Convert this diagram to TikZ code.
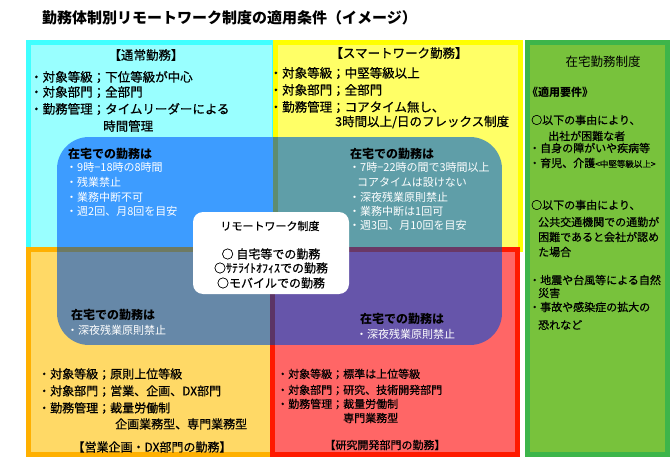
\documentclass[tikz,border=0pt]{standalone}
\usepackage{fontspec}
\setmainfont{Noto Sans CJK JP}
\newfontfamily\jpm{Noto Sans CJK JP}[FakeBold=0.6]
\definecolor{cyB}{HTML}{40FFFF}
\definecolor{cyF}{HTML}{99FFFF}
\definecolor{yeB}{HTML}{FFFF00}
\definecolor{yeF}{HTML}{FFFF66}
\definecolor{orB}{HTML}{FFB000}
\definecolor{orF}{HTML}{FFD966}
\definecolor{rdB}{HTML}{FF1A00}
\definecolor{rdF}{HTML}{FF6666}
\definecolor{grB}{HTML}{3DB54A}
\definecolor{grF}{HTML}{78C23C}
\definecolor{ovTL}{HTML}{3D9CFF}
\definecolor{ovTR}{HTML}{5F9EA8}
\definecolor{ovBL}{HTML}{6688A8}
\definecolor{ovBR}{HTML}{6655AA}
\definecolor{lnT}{HTML}{5E8C70}
\definecolor{lnHL}{HTML}{6E7A62}
\definecolor{lnHR}{HTML}{6A3866}
\definecolor{lnB}{HTML}{5C3464}
\begin{document}
\begin{tikzpicture}[x=1pt,y=-1pt,
  jt/.style={anchor=west, inner sep=0pt, text=black, font=\jpm\fontsize{12.5}{14}\selectfont},
  jts/.style={jt, font=\jpm\fontsize{12}{14}\selectfont},
  jtr/.style={jt, font=\jpm\fontsize{11}{13}\selectfont},
  jc/.style={jt, anchor=center},
  ovh/.style={anchor=west, inner sep=0pt, text=black, font=\fontsize{12}{14}\selectfont\bfseries},
  ovi/.style={anchor=west, inner sep=0pt, text=white, font=\fontsize{11}{13}\selectfont},
  ctr/.style={anchor=center, inner sep=0pt, text=black, font=\jpm\fontsize{11}{13}\selectfont},
  ctrb/.style={ctr, font=\jpm\fontsize{12}{14}\selectfont},
  gt/.style={anchor=west, inner sep=0pt, text=black, font=\jpm\fontsize{11}{13}\selectfont}
]
\useasboundingbox (0,0) rectangle (670,460);
\fill[white] (0,0) rectangle (670,460);

% title
\node[anchor=west, inner sep=0pt, font=\fontsize{15}{17}\selectfont\bfseries] (title) at (42,18) {勤務体制別リモートワーク制度の適用条件（イメージ）};

% quadrants
\fill[cyB] (26,40) rectangle (276,252);
\fill[cyF] (31,45) rectangle (272,248);
\fill[yeB] (273,40) rectangle (523,252);
\fill[yeF] (278,45) rectangle (518,248);
\fill[orB] (26,247) rectangle (275,457);
\fill[orF] (31,252) rectangle (270,452);
\fill[rdB] (270,247) rectangle (520,457);
\fill[rdF] (275,252) rectangle (515,452);
% green box
\fill[grB] (525,40) rectangle (670,457);
\fill[grF] (530,45) rectangle (665,452);

% overlay
\begin{scope}
\clip[rounded corners=32] (57,137) rectangle (502,345);
\fill[ovTL] (57,137) rectangle (273,249);
\fill[ovTR] (273,137) rectangle (502,249);
\fill[ovBL] (57,249) rectangle (272,345);
\fill[ovBR] (272,249) rectangle (502,345);
\fill[lnT] (273,137) rectangle (277.5,249);
\fill[lnHL] (57,247) rectangle (272,251.5);
\fill[lnHR] (272,247) rectangle (502,251.5);
\fill[lnB] (270,251.5) rectangle (275,345);
\end{scope}

% center box
\fill[white, rounded corners=10] (193,212) rectangle (349,294);
\node[ctr] (c0) at (270,226) {リモートワーク制度};
\node[ctrb] (c1) at (271,254) {○ 自宅等での勤務};
\node[ctrb] (c2) at (271,268) {○ｻﾃﾗｲﾄｵﾌｨｽでの勤務};
\node[ctrb] (c3) at (271,283) {○モバイルでの勤務};

% top-left text
\node[jc] (tlh) at (146,55) {【通常勤務】};
\node[jt] (tl1) at (30,77) {・対象等級；下位等級が中心};
\node[jt] (tl2) at (30,92) {・対象部門；全部門};
\node[jt] (tl3) at (30,109) {・勤務管理；タイムリーダーによる};
\node[jt] (tl4) at (103,126) {時間管理};

% top-right text
\node[jc] (trh) at (399,53) {【スマートワーク勤務】};
\node[jt] (tr1) at (269.5,73) {・対象等級；中堅等級以上};
\node[jt] (tr2) at (269.5,90) {・対象部門；全部門};
\node[jt] (tr3) at (269.5,107) {・勤務管理；コアタイム無し、};
\node[jt] (tr4) at (335,122) {3時間以上/日のフレックス制度};

% overlay TL
\node[ovh] (otl0) at (68,154) {在宅での勤務は};
\node[ovi] (otl1) at (66,167) {・9時−18時の8時間};
\node[ovi] (otl2) at (66,182) {・残業禁止};
\node[ovi] (otl3) at (66,197) {・業務中断不可};
\node[ovi] (otl4) at (66,211) {・週2回、月8回を目安};

% overlay TR
\node[ovh] (otr0) at (350,154) {在宅での勤務は};
\node[ovi] (otr1) at (349,167) {・7時−22時の間で3時間以上};
\node[ovi] (otr2) at (357,182) {コアタイムは設けない};
\node[ovi] (otr3) at (349,197) {・深夜残業原則禁止};
\node[ovi] (otr4) at (349,211) {・業務中断は1回可};
\node[ovi] (otr5) at (349,225) {・週3回、月10回を目安};

% overlay BL / BR
\node[ovh] (obl0) at (71,315) {在宅での勤務は};
\node[ovi] (obl1) at (67,330) {・深夜残業原則禁止};
\node[ovh] (obr0) at (360,319) {在宅での勤務は};
\node[ovi] (obr1) at (356,334) {・深夜残業原則禁止};

% bottom-left text
\node[jts] (bl1) at (38,374) {・対象等級；原則上位等級};
\node[jts] (bl2) at (38,391) {・対象部門；営業、企画、DX部門};
\node[jts] (bl3) at (38,408) {・勤務管理；裁量労働制};
\node[jts] (bl4) at (115,424) {企画業務型、専門業務型};
\node[jts, anchor=center] (blh) at (152,447) {【営業企画・DX部門の勤務】};

% bottom-right text
\node[jtr] (br1) at (277,374) {・対象等級；標準は上位等級};
\node[jtr] (br2) at (277,390) {・対象部門；研究、技術開発部門};
\node[jtr] (br3) at (277,404) {・勤務管理；裁量労働制};
\node[jtr] (br4) at (343,418) {専門業務型};
\node[jtr, anchor=center] (brh) at (385,445) {【研究開発部門の勤務】};

% green box text
\node[anchor=center, inner sep=0pt, font=\fontsize{12.5}{14}\selectfont] (g0) at (603,62) {在宅勤務制度};
\node[gt, font=\fontsize{11}{13}\selectfont\bfseries] (g1) at (527,92) {《適用要件》};
\node[gt] (g2) at (531,120) {○以下の事由により、};
\node[gt] (g3) at (548,136) {出社が困難な者};
\node[gt] (g4) at (529,148) {・自身の障がいや疾病等};
\node[gt] (g5) at (529,163) {・育児、介護{\fontsize{8.5}{10}\selectfont <中堅等級以上>}};
\node[gt] (g6) at (531,205) {○以下の事由により、};
\node[gt] (g7) at (538,222) {公共交通機関での通勤が};
\node[gt] (g8) at (538,237) {困難であると会社が認め};
\node[gt] (g9) at (538,252) {た場合};
\node[gt] (g10) at (529,280) {・地震や台風等による自然};
\node[gt] (g11) at (538,293) {災害};
\node[gt] (g12) at (529,307) {・事故や感染症の拡大の};
\node[gt] (g13) at (538,325) {恐れなど};
\end{tikzpicture}
\end{document}
